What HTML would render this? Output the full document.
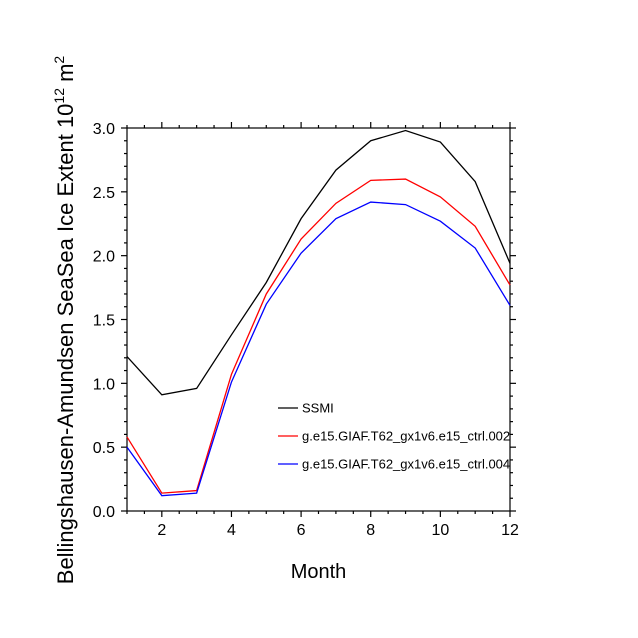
<!DOCTYPE html>
<html><head><meta charset="utf-8"><style>body{margin:0;background:#fff}svg{display:block;font-family:"Liberation Sans",sans-serif}</style></head>
<body>
<svg id="c" width="638" height="638"></svg>
<script>
const months=[1,2,3,4,5,6,7,8,9,10,11,12];
const ssmi=[1.21,0.91,0.96,1.38,1.79,2.29,2.67,2.90,2.98,2.89,2.58,1.94];
const ctrl002=[0.58,0.14,0.16,1.07,1.70,2.13,2.41,2.59,2.60,2.46,2.23,1.77];
const ctrl004=[0.50,0.12,0.14,1.01,1.62,2.02,2.29,2.42,2.40,2.27,2.06,1.61];
const xTicks=[2,4,6,8,10,12];
const yTicks=[0.0,0.5,1.0,1.5,2.0,2.5,3.0];
const L=127,R=510,T=128,B=511;
const X=v=>L+(v-1)/11*(R-L), Y=v=>B-v/3*(B-T);
const svg=document.getElementById('c');const NS='http://www.w3.org/2000/svg';
function mk(t,a,p){const e=document.createElementNS(NS,t);for(const k in a)e.setAttribute(k,a[k]);(p||svg).appendChild(e);return e;}
const ax=mk('g',{stroke:'#000','stroke-width':1.2});


mk('rect',{x:L,y:T,width:R-L,height:B-T,fill:'none'},ax);
for(let m=1;m<=12;m+=0.5){const x=X(m),len=(m%2===0)?6:3;
 mk('line',{x1:x,x2:x,y1:B,y2:B+len},ax);mk('line',{x1:x,x2:x,y1:T,y2:T-len},ax);}
for(let i=0;i<=30;i++){const v=i/10,y=Y(v),len=(i%5===0)?6:3;
 mk('line',{x1:L,x2:L-len,y1:y,y2:y},ax);mk('line',{x1:R,x2:R+len,y1:y,y2:y},ax);}
xTicks.forEach(v=>{const t=mk('text',{x:X(v),y:B+24,'text-anchor':'middle','font-size':16});t.textContent=v;
 });
yTicks.forEach(v=>{const t=mk('text',{x:L-12,y:Y(v)+6,'text-anchor':'end','font-size':16});t.textContent=v.toFixed(1);
 });
const xt=mk('text',{x:(L+R)/2,y:578,'text-anchor':'middle','font-size':20});xt.textContent='Month';

const yt=mk('text',{transform:'translate(73,320) rotate(-90)','text-anchor':'middle','font-size':22});
yt.innerHTML='Bellingshausen-Amundsen SeaSea Ice Extent 10<tspan dy="-9" font-size="14">12</tspan><tspan dy="9"> m</tspan><tspan dy="-9" font-size="14">2</tspan>';

const series=[[ssmi,'#000','SSMI','ssmi-line'],[ctrl002,'#f00','g.e15.GIAF.T62_gx1v6.e15_ctrl.002','ctrl-002-line'],[ctrl004,'#00f','g.e15.GIAF.T62_gx1v6.e15_ctrl.004','ctrl-004-line']];
series.forEach((s,i)=>{const p=mk('polyline',{points:s[0].map((v,j)=>X(months[j])+','+Y(v)).join(' '),fill:'none',stroke:s[1],'stroke-width':1.3});
 
 const ly=408+i*28;
 const g=mk('g',{});
 mk('line',{x1:278,x2:298,y1:ly,y2:ly,stroke:s[1],'stroke-width':1.3},g);
 const t=mk('text',{x:302,y:ly+4.5,'font-size':13},g);t.textContent=s[2];});
</script>
</body></html>
